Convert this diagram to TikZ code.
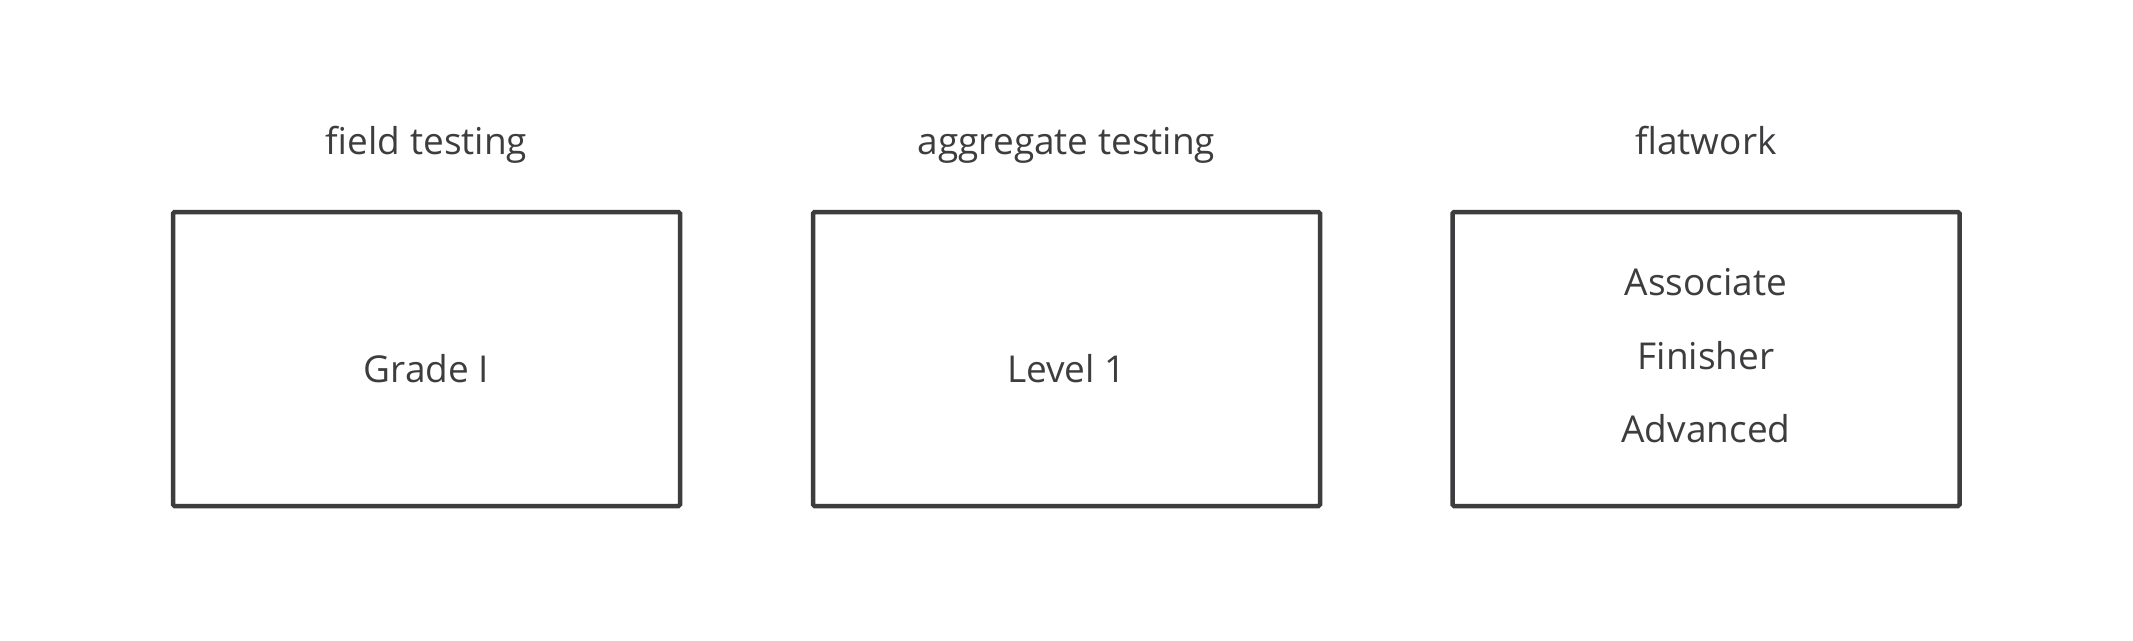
\documentclass[tikz,border=0pt]{standalone}
\usepackage{fontspec}
\setmainfont{Open Sans}
\definecolor{ink}{HTML}{3D3D3F}
\begin{document}
\begin{tikzpicture}[x=1pt,y=-1pt,
  box/.style={draw=ink,line width=4.5pt,rounded corners=1.5pt,minimum width=507pt,minimum height=294pt,inner sep=0pt},
  lbl/.style={text=ink,anchor=base,font=\fontsize{37}{44}\selectfont,inner sep=0pt}]
\useasboundingbox (0,0) rectangle (2133,640);
\fill[white] (0,0) rectangle (2133,640);
\node[box] (b1) at (426.5,359) {};
\node[box] (b2) at (1066.5,359) {};
\node[box] (b3) at (1706,359) {};
\node[lbl] (t1) at (426.5,154) {field testing};
\node[lbl] (t2) at (1066.5,154) {aggregate testing};
\node[lbl] (t3) at (1706,154) {flatwork};
\node[lbl] (g1) at (426.5,382) {Grade I};
\node[lbl] (l1) at (1066.5,382) {Level 1};
\node[lbl] (a1) at (1706,295) {Associate};
\node[lbl] (f1) at (1706,369) {Finisher};
\node[lbl] (v1) at (1706,442) {Advanced};
\end{tikzpicture}
\end{document}
